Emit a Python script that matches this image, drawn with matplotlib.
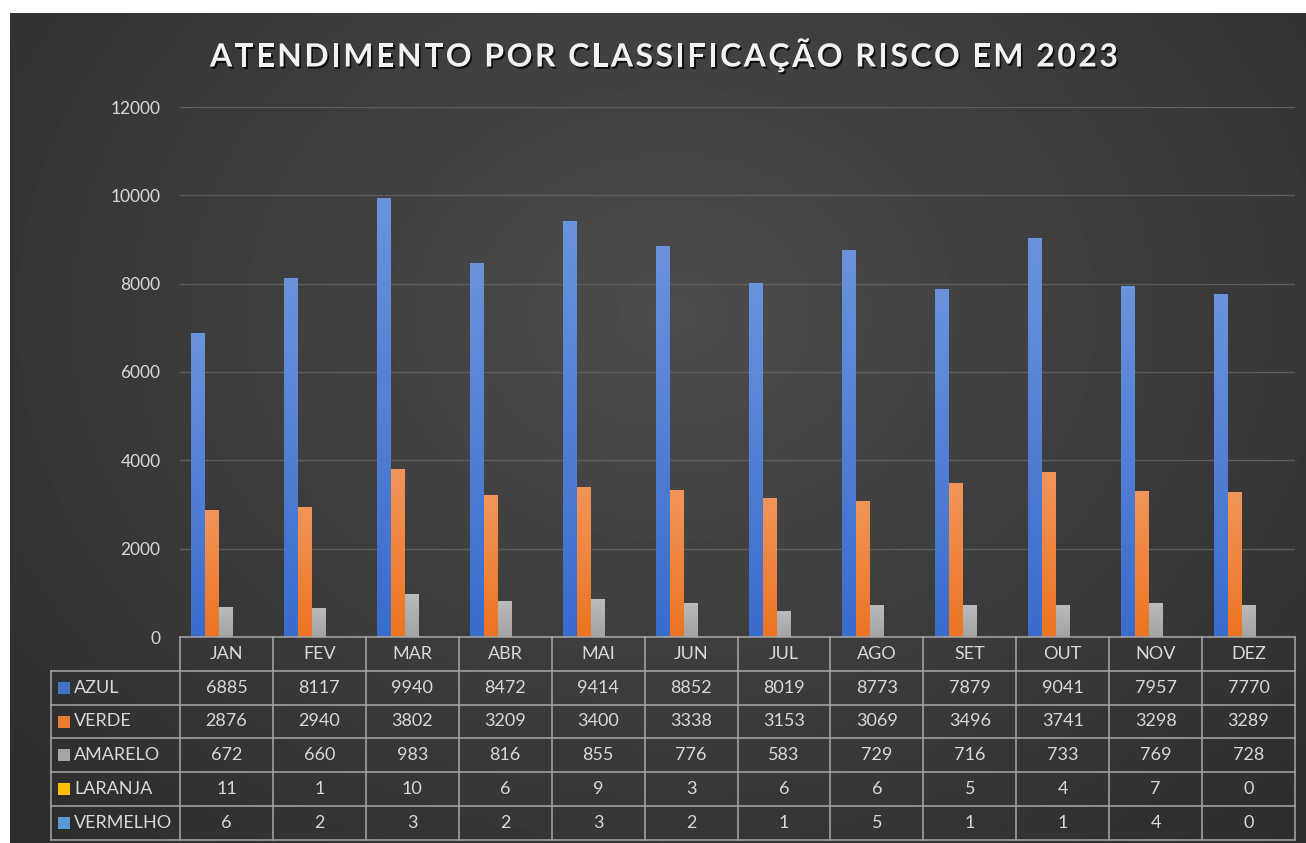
import numpy as np
import matplotlib.pyplot as plt
import matplotlib.patheffects as pe
from matplotlib.transforms import blended_transform_factory
from matplotlib.patches import Rectangle
from matplotlib.lines import Line2D
from matplotlib.colors import to_rgb

months = ["JAN", "FEV", "MAR", "ABR", "MAI", "JUN", "JUL", "AGO", "SET", "OUT", "NOV", "DEZ"]
series_names = ["AZUL", "VERDE", "AMARELO", "LARANJA", "VERMELHO"]
azul = [6885, 8117, 9940, 8472, 9414, 8852, 8019, 8773, 7879, 9041, 7957, 7770]
verde = [2876, 2940, 3802, 3209, 3400, 3338, 3153, 3069, 3496, 3741, 3298, 3289]
amarelo = [672, 660, 983, 816, 855, 776, 583, 729, 716, 733, 769, 728]
laranja = [11, 1, 10, 6, 9, 3, 6, 6, 5, 4, 7, 0]
vermelho = [6, 2, 3, 2, 3, 2, 1, 5, 1, 1, 4, 0]
title = "ATENDIMENTO POR CLASSIFICAÇÃO RISCO EM 2023"
yticks = [0, 2000, 4000, 6000, 8000, 10000, 12000]

data = [azul, verde, amarelo, laranja, vermelho]
colors = ["#4472C4", "#ED7D31", "#A5A5A5", "#FFC000", "#5B9BD5"]
top_colors = ["#6b93dc", "#f2955a", "#bbbbbb", "#ffd24d", "#7fb3e3"]
bottom_colors = ["#3a6cce", "#ec7422", "#a3a3a3", "#ffc000", "#4f95d6"]

FONT = ["Lato", "DejaVu Sans"]
TXT = "#d9d9d9"
W, H = 1306, 843
fig = plt.figure(figsize=(W / 100, H / 100), dpi=100, facecolor="white")

# dark panel with radial gradient
bg = fig.add_axes([10 / W, 0, 1 - 10 / W, 1 - 13 / H])
gy, gx = np.mgrid[0:415, 0:648]
cx, cy = 330, 150
r = np.sqrt(((gx - cx) / 520.0) ** 2 + ((gy - cy) / 420.0) ** 2)
val = 0.30 - 0.17 * np.clip(r, 0, 1.2) / 1.2
bg.imshow(val, cmap="gray", vmin=0, vmax=1, aspect="auto", interpolation="bilinear")
bg.axis("off")

ax = fig.add_axes([180 / W, 1 - 637 / H, (1295 - 180) / W, (637 - 107) / H])
ax.set_facecolor("none")
x = np.arange(len(months))
px_per_unit = (1295 - 180) / 12.0
bw = 14 / px_per_unit
grad_t = np.linspace(0, 1, 64)[:, None]
for i, vals in enumerate(data):
    bars = ax.bar(x + (i - 2) * bw, vals, width=bw, color=colors[i], zorder=3)
    ct = np.array(to_rgb(top_colors[i]))
    cb = np.array(to_rgb(bottom_colors[i]))
    img = (cb[None, None, :] * (1 - grad_t[:, :, None]) + ct[None, None, :] * grad_t[:, :, None])
    for b in bars:
        h = b.get_height()
        if h <= 0:
            continue
        x0 = b.get_x()
        im = ax.imshow(img, extent=(x0, x0 + b.get_width(), 0, h), origin="lower",
                       aspect="auto", zorder=3.5, interpolation="bilinear")
        im.set_clip_path(b)
ax.set_xlim(-0.5, len(months) - 0.5)
ax.set_ylim(0, 12000)
ax.set_aspect("auto")
ax.set_yticks(yticks)
ax.set_yticklabels([str(v) for v in yticks], fontfamily=FONT)
ax.grid(axis="y", color="#5e5e5e", lw=1.0, zorder=0)
ax.tick_params(axis="y", length=0, colors=TXT, labelsize=12.5, pad=14)
ax.set_xticks([])
for s in ax.spines.values():
    s.set_visible(False)

# data table
tr = blended_transform_factory(ax.transData, ax.transAxes)
rh = 33.8 / (637 - 107)
left = -0.5 - (180 - 51) / px_per_unit
right = len(months) - 0.5
lc = "#a8a8a8"
lw = 1.1
nrows = len(series_names)
ax.add_line(Line2D([-0.5, right], [0, 0], transform=tr, color=lc, lw=lw, clip_on=False, zorder=5))
for k in range(1, nrows + 2):
    ax.add_line(Line2D([left, right], [-k * rh, -k * rh], transform=tr, color=lc, lw=lw, clip_on=False, zorder=5))
for k in range(len(months) + 1):
    ax.add_line(Line2D([-0.5 + k, -0.5 + k], [0, -(nrows + 1) * rh], transform=tr, color=lc, lw=lw, clip_on=False, zorder=5))
ax.add_line(Line2D([left, left], [-rh, -(nrows + 1) * rh], transform=tr, color=lc, lw=lw, clip_on=False, zorder=5))

FS = 13
for j, m in enumerate(months):
    ax.text(j, -0.5 * rh, m, transform=tr, ha="center", va="center", color=TXT, fontsize=FS, fontfamily=FONT, clip_on=False)
key = 12 / px_per_unit
for i, (name, vals, c) in enumerate(zip(series_names, data, colors)):
    yc = -(i + 1.5) * rh
    ax.add_patch(Rectangle((left + 6.5 / px_per_unit, yc - 6 / (637 - 107)), key, 12 / (637 - 107),
                           transform=tr, facecolor=c, edgecolor="none", clip_on=False, zorder=5))
    ax.text(left + 23 / px_per_unit, yc, name, transform=tr, ha="left", va="center", color=TXT,
            fontsize=FS, fontfamily=FONT, clip_on=False)
    for j, v in enumerate(vals):
        ax.text(j, yc, str(v), transform=tr, ha="center", va="center", color=TXT, fontsize=FS,
                fontfamily=FONT, clip_on=False)

# title with letter spacing
renderer = fig.canvas.get_renderer()
tprops = dict(fontsize=23, fontweight="bold", fontfamily=FONT)


def text_w(s):
    t = fig.text(0, 0, s, **tprops)
    w = t.get_window_extent(renderer).width
    t.remove()
    return w


base = text_w("HH")
advs = [text_w("H" + ch + "H") - base for ch in title]
target_left, target_right = 210, 1118
spacing = ((target_right - target_left) - sum(advs)) / (len(title) - 1)
xpos = target_left
shadow = [pe.withSimplePatchShadow(offset=(1.2, -1.5), shadow_rgbFace="black", alpha=0.75)]
for ch, adv in zip(title, advs):
    if ch != " ":
        fig.text(xpos / W, 1 - 57 / H, ch, ha="left", va="center", color="#f2f2f2",
                 path_effects=shadow, **tprops)
    xpos += adv + spacing

fig.savefig("out.png", dpi=100, facecolor="white")
